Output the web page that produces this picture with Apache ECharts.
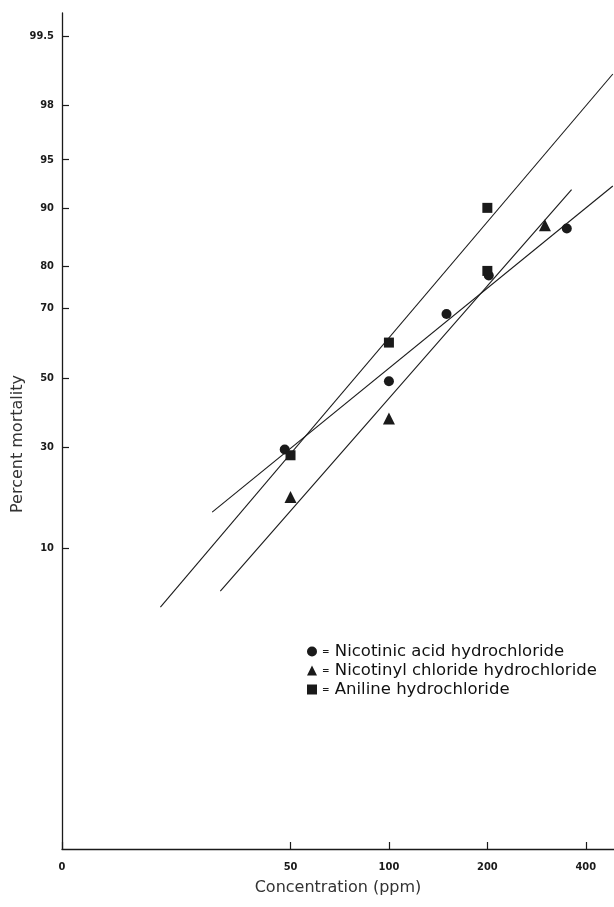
<!DOCTYPE html>
<html><head><meta charset="utf-8">
<script src="https://cdn.jsdelivr.net/npm/echarts@6/dist/echarts.min.js"></script>
<style>html,body{margin:0;padding:0;background:#fff}#c{width:614px;height:907px}</style>
</head><body><div id="c"></div>
<script>
// Concentration ticks (ppm); the origin is labelled "0"
const xTicks = [10, 50, 100, 200, 400];
const xTickLabels = ['0', '50', '100', '200', '400'];
// Percent mortality ticks (probit scale)
const yTicks = [10, 30, 50, 70, 80, 90, 95, 98, 99.5];
const yTickLabels = ['10', '30', '50', '70', '80', '90', '95', '98', '99.5'];

// Observed points [ppm, % mortality]
const nicotinicAcid = [[48, 29.5], [100, 49], [150, 68.5], [202, 78], [350, 87]];
const nicotinylChloride = [[50, 18.5], [100, 38], [300, 87.5]];
const aniline = [[50, 28], [100, 60.5], [200, 90], [200, 79]];

// Fitted probit lines, end points [ppm, % mortality]
const nicotinicAcidFit = [[28.8, 15.6], [484, 92.6]];
const nicotinylChlorideFit = [[30.5, 5.4], [362, 92.2]];
const anilineFit = [[20, 4.2], [484, 98.9]];

const seriesNames = ['Nicotinic acid hydrochloride', 'Nicotinyl chloride hydrochloride', 'Aniline hydrochloride'];

// inverse standard normal CDF (Acklam)
function normInv(p) {
  const a = [-3.969683028665376e+01, 2.209460984245205e+02, -2.759285104469687e+02, 1.383577518672690e+02, -3.066479806614716e+01, 2.506628277459239e+00];
  const b = [-5.447609879822406e+01, 1.615858368580409e+02, -1.556989798598866e+02, 6.680131188771972e+01, -1.328068155288572e+01];
  const c = [-7.784894002430293e-03, -3.223964580411365e-01, -2.400758277161838e+00, -2.549732539343734e+00, 4.374664141464968e+00, 2.938163982698783e+00];
  const d = [7.784695709041462e-03, 3.224671290700398e-01, 2.445134137142996e+00, 3.754408661907416e+00];
  const pl = 0.02425, ph = 1 - pl;
  let q, r;
  if (p < pl) { q = Math.sqrt(-2 * Math.log(p)); return (((((c[0]*q+c[1])*q+c[2])*q+c[3])*q+c[4])*q+c[5]) / ((((d[0]*q+d[1])*q+d[2])*q+d[3])*q+1); }
  if (p <= ph) { q = p - 0.5; r = q*q; return (((((a[0]*r+a[1])*r+a[2])*r+a[3])*r+a[4])*r+a[5])*q / (((((b[0]*r+b[1])*r+b[2])*r+b[3])*r+b[4])*r+1); }
  q = Math.sqrt(-2 * Math.log(1 - p)); return -(((((c[0]*q+c[1])*q+c[2])*q+c[3])*q+c[4])*q+c[5]) / ((((d[0]*q+d[1])*q+d[2])*q+d[3])*q+1);
}
const tx = v => Math.log10(v);
const ty = p => normInv(p / 100);
const tr = arr => arr.map(([x, y]) => [tx(x), ty(y)]);

const xVals = xTicks.map(tx);
const yVals = yTicks.map(ty);
function nearestLabel(v, vals, labels) {
  let bi = 0, bd = Infinity;
  vals.forEach((t, i) => { const d = Math.abs(t - v); if (d < bd) { bd = d; bi = i; } });
  return labels[bi];
}

const ink = '#1a1a1a';
const tickFont = { fontFamily: 'DejaVu Sans Condensed', fontWeight: 'bold', fontSize: 11, color: ink };
const textFont = 'DejaVu Sans';

const chart = echarts.init(document.getElementById('c'), null, { renderer: 'canvas' });
const lineStyle = { color: ink, width: 1.1 };
const pointStyle = { color: ink, opacity: 1 };
chart.setOption({
  animation: false,
  backgroundColor: '#fff',
  grid: { left: 62, right: 0, top: 13, bottom: 58 },
  xAxis: {
    type: 'value', min: 1, max: Math.log10(488),
    name: 'Concentration (ppm)', nameLocation: 'middle', nameGap: 31,
    nameTextStyle: { fontFamily: textFont, fontSize: 16, color: '#333' },
    axisLine: { show: true, onZero: false, lineStyle: { color: ink, width: 1.3 } },
    axisTick: { show: true, inside: true, length: 7, customValues: xVals, lineStyle: { color: ink, width: 1.2 } },
    axisLabel: { customValues: xVals, margin: 13, ...tickFont, formatter: v => nearestLabel(v, xVals, xTickLabels) },
    splitLine: { show: false }
  },
  yAxis: {
    type: 'value', min: -3.55, max: 2.75,
    axisLine: { show: true, onZero: false, lineStyle: { color: ink, width: 1.3 } },
    axisTick: { show: true, inside: true, length: 7, customValues: yVals, lineStyle: { color: ink, width: 1.2 } },
    axisLabel: { customValues: yVals, margin: 8, ...tickFont, formatter: v => nearestLabel(v, yVals, yTickLabels) },
    splitLine: { show: false }
  },
  legend: {
    orient: 'vertical', left: 302, top: 638, itemWidth: 10, itemHeight: 10, itemGap: 2,
    data: [
      { name: seriesNames[0], icon: 'circle' },
      { name: seriesNames[1], icon: 'triangle' },
      { name: seriesNames[2], icon: 'rect' }
    ],
    formatter: n => '{eq|=} ' + n,
    textStyle: { fontFamily: textFont, fontSize: 16.5, color: '#111', lineHeight: 17,
      rich: { eq: { fontSize: 9, fontWeight: 'bold', color: ink } } }
  },
  graphic: [{
    type: 'text',
    style: { text: 'Percent mortality', font: '16px "DejaVu Sans"', fill: '#333' },
    rotation: Math.PI / 2,
    x: 10, y: 513
  }],
  series: [
    { type: 'line', data: tr(nicotinicAcidFit), symbol: 'none', lineStyle, silent: true, clip: true },
    { type: 'line', data: tr(nicotinylChlorideFit), symbol: 'none', lineStyle, silent: true, clip: true },
    { type: 'line', data: tr(anilineFit), symbol: 'none', lineStyle, silent: true, clip: true },
    { name: seriesNames[0], type: 'scatter', data: tr(nicotinicAcid), symbol: 'circle', symbolSize: 10, itemStyle: pointStyle },
    { name: seriesNames[1], type: 'scatter', data: tr(nicotinylChloride), symbol: 'triangle', symbolSize: 12, itemStyle: pointStyle },
    { name: seriesNames[2], type: 'scatter', data: tr(aniline), symbol: 'rect', symbolSize: 10, itemStyle: pointStyle }
  ]
});
</script></body></html>
